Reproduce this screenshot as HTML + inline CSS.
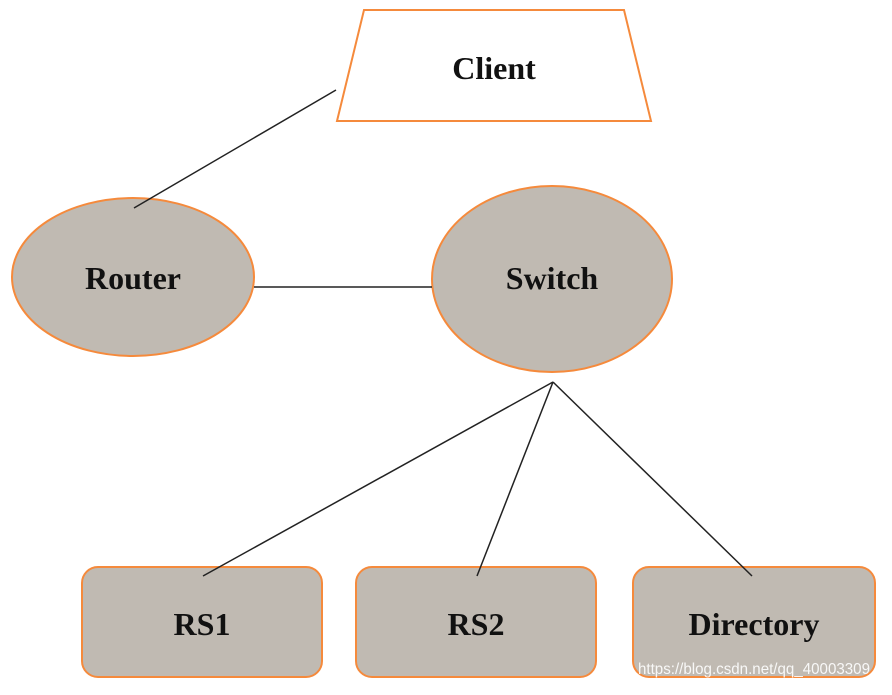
<!DOCTYPE html>
<html><head><style>
html,body{margin:0;padding:0;background:#fff;}
</style></head><body>
<svg width="892" height="690" viewBox="0 0 892 690" xmlns="http://www.w3.org/2000/svg">
<rect width="892" height="690" fill="#fff"/>
<polygon points="364,10 624,10 651,121 337,121" fill="#fff" stroke="#f58a3c" stroke-width="2"/>
<ellipse cx="133" cy="277" rx="121" ry="79" fill="#c0bab2" stroke="#f58a3c" stroke-width="2"/>
<ellipse cx="552" cy="279" rx="120" ry="93" fill="#c0bab2" stroke="#f58a3c" stroke-width="2"/>
<g fill="#c0bab2" stroke="#f58a3c" stroke-width="2">
<rect x="82" y="567" width="240" height="110" rx="16"/>
<rect x="356" y="567" width="240" height="110" rx="16"/>
<rect x="633" y="567" width="242" height="110" rx="16"/>
</g>
<g stroke="#222" stroke-width="1.5">
<line x1="336" y1="90" x2="134" y2="208"/>
<line x1="254" y1="287" x2="432" y2="287"/>
<line x1="553" y1="382" x2="203" y2="576"/>
<line x1="553" y1="382" x2="477" y2="576"/>
<line x1="553" y1="382" x2="752" y2="576"/>
</g>
<g style="font-family:'Liberation Serif',serif;font-weight:bold;fill:#111;" font-size="32" text-anchor="middle">
<text x="494" y="79">Client</text>
<text x="133" y="289">Router</text>
<text x="552" y="289">Switch</text>
<text x="202" y="635">RS1</text>
<text x="476" y="635">RS2</text>
<text x="754" y="635">Directory</text>
</g>
<text x="638" y="674" font-size="16" textLength="232" lengthAdjust="spacingAndGlyphs" style="font-family:'Liberation Sans',sans-serif;fill:#fff;opacity:0.9">https://blog.csdn.net/qq_40003309</text>
</svg>
</body></html>
